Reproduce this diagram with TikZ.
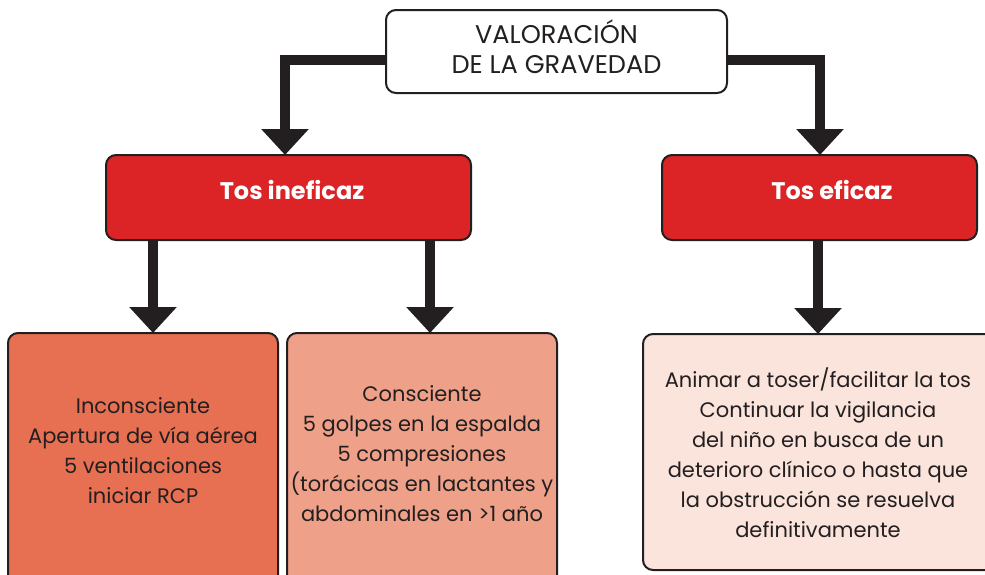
\documentclass[tikz,border=0pt]{standalone}
\usepackage{fontspec}
\setmainfont{Poppins}
\usetikzlibrary{arrows.meta}
\definecolor{ink}{HTML}{231F20}
\definecolor{redbox}{HTML}{DC2426}
\definecolor{incfill}{HTML}{E87052}
\definecolor{conffill}{HTML}{EFA088}
\definecolor{effill}{HTML}{FAE4DC}
\tikzset{
  box/.style={draw=ink, line width=1pt, rounded corners=5pt, inner sep=0pt},
  txt/.style={text=ink, align=center, font=\fontsize{10.5}{15}\selectfont},
  title/.style={text=ink, align=center, font=\fontsize{12.8}{15}\selectfont},
  hdr/.style={text=white, font=\fontsize{12}{14}\selectfont\bfseries},
  arr/.style={draw=ink, line width=5pt, -{Triangle[width=23pt,length=13pt]}},
}
\begin{document}
\begin{tikzpicture}[x=0.5pt,y=-0.5pt]
\useasboundingbox (0,0) rectangle (985,574);
\clip (0,0) rectangle (985,574);
% boxes
\path[box, fill=white] (386,10) rectangle (727,93);
\node[title] (v) at (556.5,47) {VALORACIÓN\\DE LA GRAVEDAD};
\path[box, fill=redbox] (106,155) rectangle (471,240);
\node[hdr] (ti) at (292,190) {Tos ineficaz};
\path[box, fill=redbox] (662,155) rectangle (977,240);
\node[hdr] (te) at (832,190) {Tos eficaz};
\path[box, fill=incfill] (8,333) rectangle (278,600);
\node[txt] (inc) at (143,451) {Inconsciente\\Apertura de vía aérea\\5 ventilaciones\\iniciar RCP};
\path[box, fill=conffill] (287,333) rectangle (557,600);
\node[txt] (con) at (422,454) {Consciente\\5 golpes en la espalda\\5 compresiones\\(torácicas en lactantes y\\abdominales en >1 año};
\path[box, fill=effill] (643,334) rectangle (1000,570);
\node[txt] (ef) at (818,453) {Animar a toser/facilitar la tos\\Continuar la vigilancia\\del niño en busca de un\\deterioro clínico o hasta que\\la obstrucción se resuelva\\definitivamente};
% named anchors for connectors
\coordinate (vL) at (386,60);
\coordinate (vR) at (727,60);
\coordinate (tiT) at (285,155);
\coordinate (teT) at (820,155);
\coordinate (tiB1) at (153,240);
\coordinate (tiB2) at (430,240);
\coordinate (incT) at (153,333);
\coordinate (conT) at (430,333);
\coordinate (teB) at (818,240);
\coordinate (efT) at (818,334);
% connectors
\draw[arr] (vL) -| (tiT);
\draw[arr] (vR) -| (teT);
\draw[arr] (tiB1) -- (incT);
\draw[arr] (tiB2) -- (conT);
\draw[arr] (teB) -- (efT);
\end{tikzpicture}
\end{document}
